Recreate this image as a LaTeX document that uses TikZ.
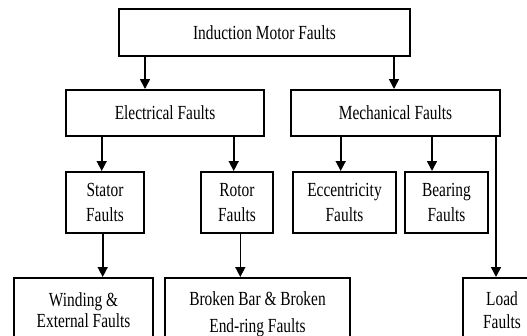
\documentclass[tikz,border=0pt]{standalone}
\usepackage{fontspec}
\setmainfont[FakeStretch=0.77]{Liberation Serif}
\usetikzlibrary{positioning, arrows.meta}

\tikzset{
	fault/.style={draw, line width=2pt, align=center, inner sep=2pt},
	arr/.style={line width=1.6pt, -{Triangle[length=10pt,width=10pt]}}
}

\begin{document}
\begin{tikzpicture}[x=1pt, y=1pt, font=\fontsize{20}{23.5}\selectfont]
		\clip (0,0) rectangle (527,-335);

		\node[fault, minimum width=291pt, minimum height=47pt] (motor) at (264.5,-32.5) {Induction Motor Faults};

		\node[fault, minimum width=198pt, minimum height=46pt] (elec) at (165,-113) {Electrical Faults};
		\node[fault, minimum width=209pt, minimum height=46pt, right=25pt of elec] (mech) {Mechanical Faults};

		\node[fault, minimum width=78pt, minimum height=61pt] (stator) at (105,-202.5) {Stator\\[2pt]Faults};
		\node[fault, minimum width=72pt, minimum height=61pt, right=55pt of stator] (rotor) {Rotor\\[2pt]Faults};
		\node[fault, minimum width=103pt, minimum height=61pt, right=18pt of rotor] (ecc) {Eccentricity\\[2pt]Faults};
		\node[fault, minimum width=83pt, minimum height=61pt, right=7pt of ecc] (bearing) {Bearing\\[2pt]Faults};

		\node[fault, minimum width=139pt, minimum height=64pt, anchor=north west] (winding) at (13,-277) {Winding \&\\[-2pt]External Faults};
		\node[fault, minimum width=185pt, minimum height=72pt, right=10pt of winding.north east, anchor=north west] (broken) {Broken Bar \& Broken\\[4pt]End-ring Faults};
		\node[fault, minimum width=78pt, minimum height=64pt, right=111pt of broken.north east, anchor=north west] (load) {Load\\[-1pt]Faults};

		\coordinate (inE) at ([xshift=-20pt]elec.north);
		\coordinate (inM) at ([xshift=-1.5pt]mech.north);
		\coordinate (inS) at ([xshift=-3.3pt]stator.north);
		\coordinate (inR) at ([xshift=-3.3pt]rotor.north);
		\coordinate (inEc) at ([xshift=-3.8pt]ecc.north);
		\coordinate (inB) at ([xshift=-14.5pt]bearing.north);
		\coordinate (inW) at ([xshift=19.2pt]winding.north);
		\coordinate (inBB) at ([xshift=-17.2pt]broken.north);
		\coordinate (inL) at ([xshift=-6pt]load.north);

		\draw[arr] (motor.south -| inE) -- (inE);
		\draw[arr] (motor.south -| inM) -- (inM);
		\draw[arr] (elec.south -| inS) -- (inS);
		\draw[arr] (elec.south -| inR) -- (inR);
		\draw[arr] (mech.south -| inEc) -- (inEc);
		\draw[arr] (mech.south -| inB) -- (inB);
		\draw[arr] (mech.south -| inL) -- (inL);
		\draw[arr] (stator.south -| inW) -- (inW);
		\draw[arr] (rotor.south -| inBB) -- (inBB);

	\end{tikzpicture}
\end{document}
